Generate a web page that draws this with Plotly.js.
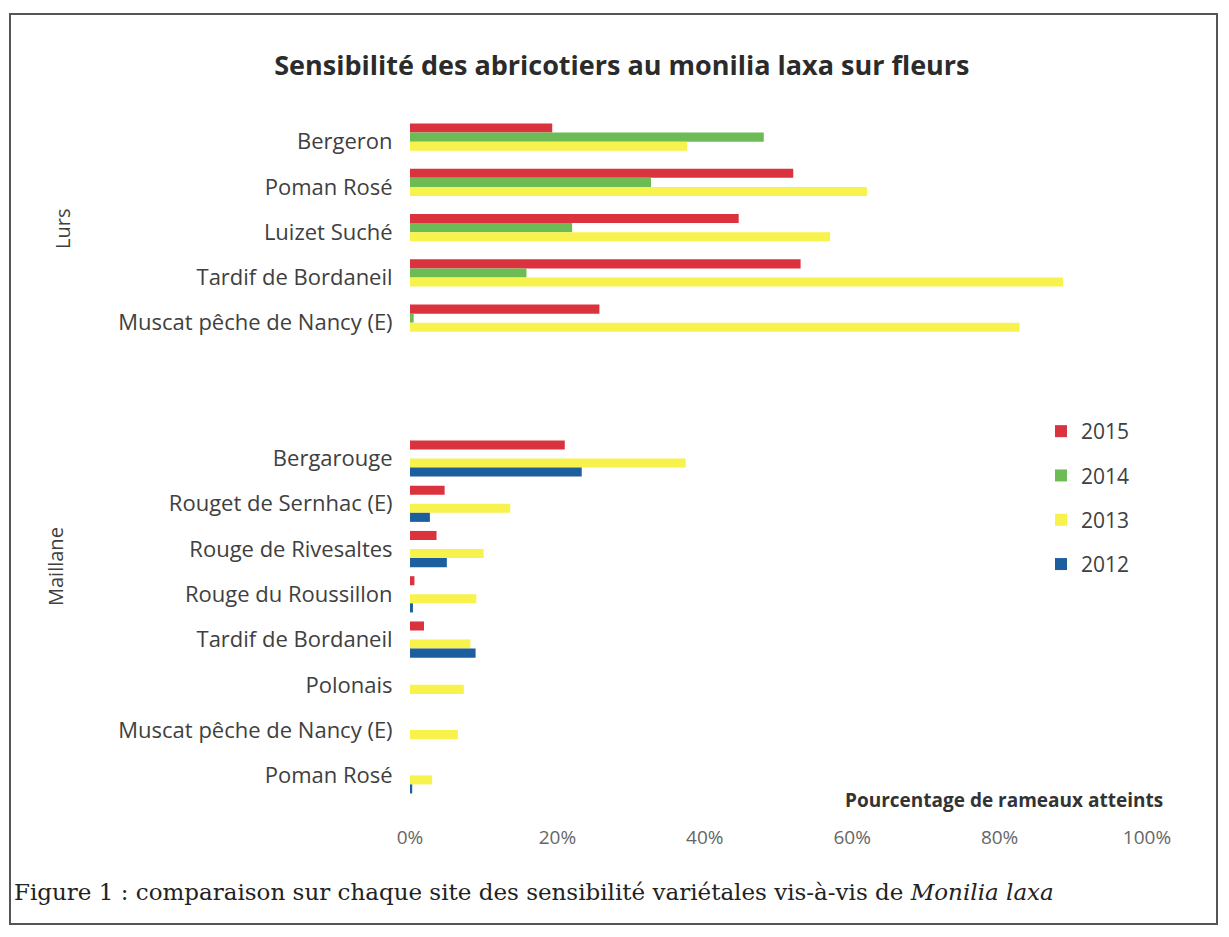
<!DOCTYPE html>
<html>
<head>
<meta charset="utf-8">
<script src="https://cdn.plot.ly/plotly-3.0.1.min.js"></script>
<style>html,body{margin:0;padding:0;background:#fff;}#chart{width:1229px;height:937px;}</style>
</head>
<body>
<div id="chart"></div>
<script>
// ---- Data (percent of shoots affected) ----
const years = ['2015', '2014', '2013', '2012'];
const yearColors = ['#DB333D', '#6DBB54', '#F8F24C', '#1C5E9E'];

const lursVarieties = ['Bergeron', 'Poman Rosé', 'Luizet Suché', 'Tardif de Bordaneil', 'Muscat pêche de Nancy (E)'];
const lurs2015 = [19.3, 52.0, 44.6, 53.0, 25.7];
const lurs2014 = [48.0, 32.7, 22.0, 15.8, 0.5];
const lurs2013 = [37.6, 62.0, 57.0, 88.6, 82.7];
const lurs2012 = [null, null, null, null, null];

const maillaneVarieties = ['Bergarouge', 'Rouget de Sernhac (E)', 'Rouge de Rivesaltes', 'Rouge du Roussillon', 'Tardif de Bordaneil', 'Polonais', 'Muscat pêche de Nancy (E)', 'Poman Rosé'];
const maillane2015 = [21.0, 4.7, 3.6, 0.6, 1.9, null, null, null];
const maillane2014 = [null, null, null, null, null, null, null, null];
const maillane2013 = [37.4, 13.6, 10.0, 9.0, 8.2, 7.3, 6.5, 3.0];
const maillane2012 = [23.3, 2.7, 5.0, 0.4, 8.9, null, null, 0.3];

const xTicks = [0, 20, 40, 60, 80, 100];

// ---- Build categories (with spacer rows between the two sites) ----
const spacers = ['gap1', 'gap2'];
const lursIds = lursVarieties.map(v => 'Lurs|' + v);
const maillaneIds = maillaneVarieties.map(v => 'Maillane|' + v);
const catIds = lursIds.concat(spacers, maillaneIds);
const catText = lursVarieties.concat(['', ''], maillaneVarieties);
const gapVals = spacers.map(() => null);

const seriesByYear = [
  lurs2015.concat(gapVals, maillane2015),
  lurs2014.concat(gapVals, maillane2014),
  lurs2013.concat(gapVals, maillane2013),
  lurs2012.concat(gapVals, maillane2012)
];

const traces = years.map((yr, i) => ({
  type: 'bar',
  orientation: 'h',
  name: yr,
  legendgroup: yr,
  x: seriesByYear[i],
  y: catIds,
  marker: {color: yearColors[i]},
  hovertemplate: '%{x}%<extra>' + yr + '</extra>'
}));

// ---- Layout ----
const L = 410, R = 82, T = 119, B = 139;
const W = 1229, H = 937;
const pw = W - L - R, ph = H - T - B;
const px = x => (x - L) / pw;          // pixel -> paper x
const py = y => (H - B - y) / ph;      // pixel -> paper y
const SANS = '"Open Sans", Lato, sans-serif';

const layout = {
  width: W, height: H,
  margin: {l: L, r: R, t: T, b: B},
  paper_bgcolor: '#ffffff',
  plot_bgcolor: '#ffffff',
  font: {family: SANS, color: '#404040'},
  title: {
    text: '<b>Sensibilité des abricotiers au monilia laxa sur fleurs</b>',
    font: {family: SANS, size: 27, color: '#2b2b2b'},
    x: 0.506, xanchor: 'center', xref: 'container',
    y: 1 - 66 / H, yanchor: 'middle', yref: 'container'
  },
  barmode: 'group',
  bargap: 0.2,
  bargroupgap: 0,
  xaxis: {
    range: [0, 100],
    tickvals: xTicks,
    ticktext: xTicks.map(t => t + '%'),
    showgrid: false, zeroline: false, showline: false,
    ticks: 'outside', ticklen: 22, tickcolor: 'rgba(0,0,0,0)',
    tickfont: {family: SANS, size: 19, color: '#666666'},
    fixedrange: true
  },
  yaxis: {
    type: 'category',
    categoryorder: 'array',
    categoryarray: catIds,
    tickvals: catIds,
    ticktext: catText,
    autorange: 'reversed',
    showgrid: false, zeroline: false, showline: false,
    ticks: 'outside', ticklen: 12, tickcolor: 'rgba(0,0,0,0)',
    tickfont: {family: SANS, size: 22, color: '#404040'},
    fixedrange: true
  },
  legend: {
    x: px(1041), y: py(411), xanchor: 'left', yanchor: 'top',
    traceorder: 'grouped',
    tracegroupgap: 14,
    font: {family: SANS, size: 21, color: '#404040'},
    bgcolor: 'rgba(0,0,0,0)',
    itemwidth: 30
  },
  annotations: [
    {text: 'Lurs', xref: 'paper', yref: 'paper', x: px(62), y: py(229),
     xanchor: 'center', yanchor: 'middle',
     showarrow: false, textangle: -90, font: {family: SANS, size: 20, color: '#404040'}},
    {text: 'Maillane', xref: 'paper', yref: 'paper', x: px(55), y: py(567),
     xanchor: 'center', yanchor: 'middle',
     showarrow: false, textangle: -90, font: {family: SANS, size: 20, color: '#404040'}},
    {text: '<b>Pourcentage de rameaux atteints</b>', xref: 'paper', yref: 'paper',
     x: px(1004), y: py(800), xanchor: 'center', yanchor: 'middle', showarrow: false,
     font: {family: SANS, size: 19, color: '#333333'}},
    {text: 'Figure 1 : comparaison sur chaque site des sensibilité variétales vis-à-vis de <i>Monilia laxa</i>',
     xref: 'paper', yref: 'paper', x: px(12), y: py(892), xanchor: 'left', yanchor: 'middle',
     showarrow: false,
     font: {family: '"DejaVu Serif", "Liberation Serif", serif', size: 23, color: '#222222'}}
  ],
  shapes: [
    {type: 'rect', xref: 'paper', yref: 'paper',
     x0: px(10), x1: px(1217), y0: py(14), y1: py(924),
     line: {color: '#555555', width: 2}, fillcolor: 'rgba(0,0,0,0)', layer: 'below'}
  ]
};

Plotly.newPlot('chart', traces, layout, {displayModeBar: false, staticPlot: true});
</script>
</body>
</html>
